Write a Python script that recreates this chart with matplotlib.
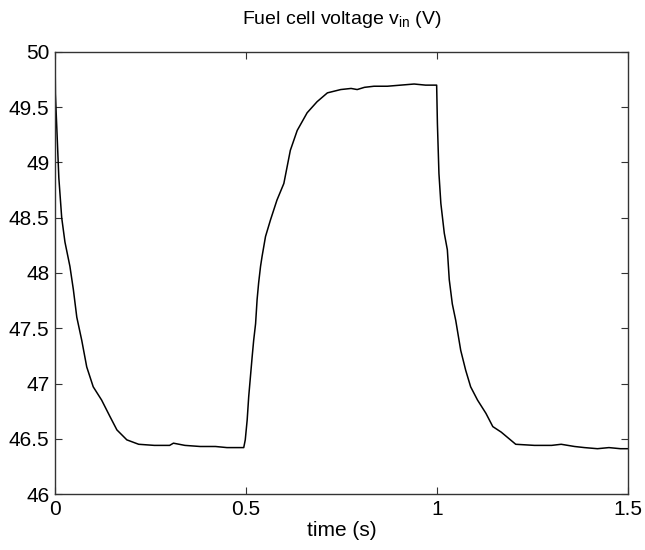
import matplotlib.pyplot as plt

plt.rcParams['font.family'] = ['Liberation Sans', 'DejaVu Sans']

# time (s) and fuel cell voltage (V)
t = [0.0, 0.001, 0.006, 0.010, 0.0175, 0.026, 0.039, 0.048, 0.057, 0.070,
     0.083, 0.100, 0.122, 0.144, 0.162, 0.188, 0.219, 0.26, 0.30, 0.31,
     0.34, 0.38, 0.42, 0.45, 0.494,
     0.498, 0.503, 0.507, 0.516, 0.520, 0.525, 0.529, 0.533, 0.538, 0.542,
     0.551, 0.564, 0.581, 0.599, 0.616, 0.634, 0.660, 0.686, 0.713, 0.748,
     0.775, 0.791, 0.81, 0.835, 0.87, 0.905, 0.94, 0.97, 0.999,
     1.001, 1.005, 1.010, 1.019, 1.027, 1.032, 1.040, 1.049, 1.062, 1.075,
     1.088, 1.106, 1.128, 1.146, 1.168, 1.206, 1.255, 1.30, 1.325, 1.36,
     1.386, 1.42, 1.45, 1.48, 1.5]
v = [50.0, 49.62, 49.2, 48.86, 48.5, 48.28, 48.06, 47.85, 47.60, 47.39,
     47.15, 46.97, 46.85, 46.70, 46.58, 46.49, 46.45, 46.44, 46.44, 46.46,
     46.44, 46.43, 46.43, 46.42, 46.42,
     46.49, 46.67, 46.88, 47.24, 47.39, 47.54, 47.76, 47.91, 48.06, 48.15,
     48.33, 48.48, 48.66, 48.81, 49.11, 49.29, 49.45, 49.55, 49.63, 49.66,
     49.67, 49.66, 49.68, 49.69, 49.69, 49.70, 49.71, 49.70, 49.70,
     49.35, 48.90, 48.63, 48.36, 48.21, 47.94, 47.72, 47.57, 47.30, 47.12,
     46.97, 46.85, 46.73, 46.61, 46.56, 46.45, 46.44, 46.44, 46.45, 46.43,
     46.42, 46.41, 46.42, 46.41, 46.41]

xticks = [0, 0.5, 1, 1.5]
xticklabels = ['0', '0.5', '1', '1.5']
yticks = [46, 46.5, 47, 47.5, 48, 48.5, 49, 49.5, 50]
yticklabels = ['46', '46.5', '47', '47.5', '48', '48.5', '49', '49.5', '50']

fig = plt.figure(figsize=(6.45, 5.5), dpi=100)
ax = fig.add_axes([0.0853, 0.1018, 0.8884, 0.8037])

ax.plot(t, v, color='black', linewidth=1.1)

ax.set_xlim(0, 1.5)
ax.set_ylim(46, 50)
ax.set_xticks(xticks)
ax.set_xticklabels(xticklabels)
ax.set_yticks(yticks)
ax.set_yticklabels(yticklabels)
ax.tick_params(direction='in', length=5, top=True, right=True,
               labelsize=15, color='#333333', pad=4)
for s in ax.spines.values():
    s.set_color('#333333')
    s.set_linewidth(1.0)

ax.set_title(r'Fuel cell voltage v$_\mathregular{in}$ (V)', fontsize=14, pad=20)
ax.set_xlabel('time (s)', fontsize=15, labelpad=2)

fig.savefig('out.png', dpi=100)
